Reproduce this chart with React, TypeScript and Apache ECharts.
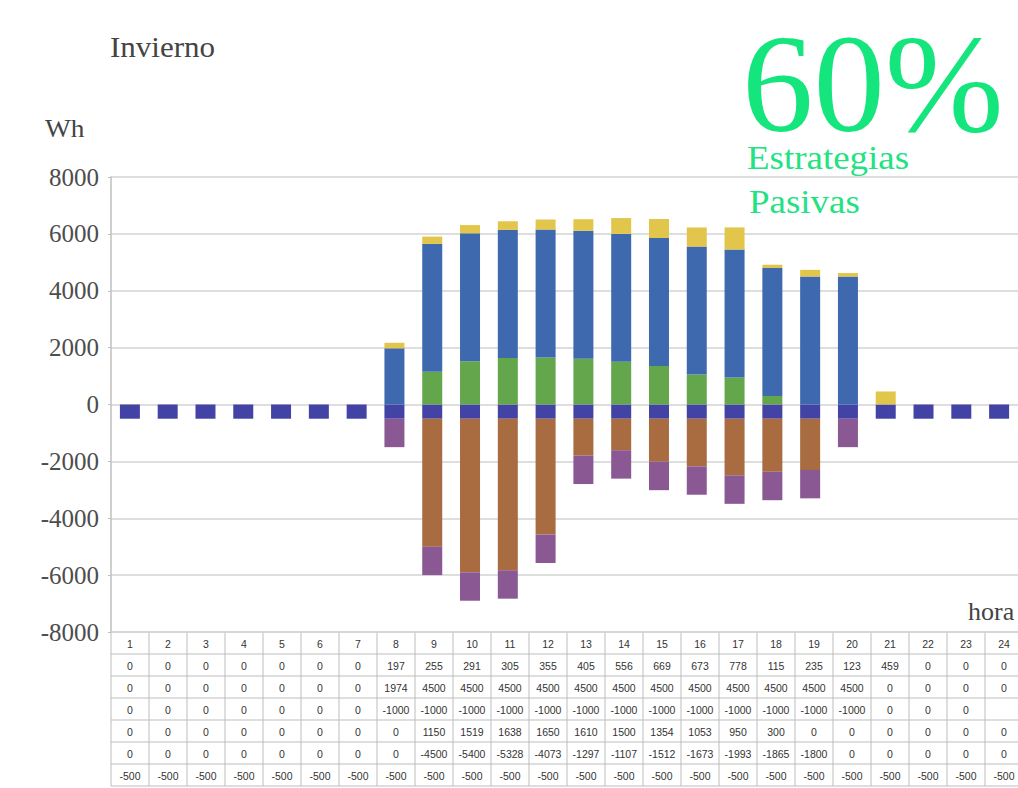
import React, { useEffect, useRef } from "react";
import * as echarts from "echarts";

const hours = ["1","2","3","4","5","6","7","8","9","10","11","12","13","14","15","16","17","18","19","20","21","22","23","24"];
const yellowData = [0,0,0,0,0,0,0,197,255,291,305,355,405,556,669,673,778,115,235,123,459,0,0,0];
const blueData = [0,0,0,0,0,0,0,1974,4500,4500,4500,4500,4500,4500,4500,4500,4500,4500,4500,4500,0,0,0,0];
const purpleData: (number | null)[] = [0,0,0,0,0,0,0,-1000,-1000,-1000,-1000,-1000,-1000,-1000,-1000,-1000,-1000,-1000,-1000,-1000,0,0,0,null];
const greenData = [0,0,0,0,0,0,0,0,1150,1519,1638,1650,1610,1500,1354,1053,950,300,0,0,0,0,0,0];
const brownData = [0,0,0,0,0,0,0,0,-4500,-5400,-5328,-4073,-1297,-1107,-1512,-1673,-1993,-1865,-1800,0,0,0,0,0];
const indigoData = [-500,-500,-500,-500,-500,-500,-500,-500,-500,-500,-500,-500,-500,-500,-500,-500,-500,-500,-500,-500,-500,-500,-500,-500];

const COLORS = {
  yellow: "#E2C64B",
  blue: "#3F69AF",
  purple: "#8A5892",
  green: "#64A64C",
  brown: "#A86C40",
  indigo: "#4343A6",
};

// table rows in the order they appear under the chart
const tableRows = [yellowData, blueData, purpleData, greenData, brownData, indigoData];

const GRID_LEFT = 111;
const GRID_TOP = 177;
const GRID_H = 455;
const GRID_W = 912;
const TABLE_TOP = 632;
const ROW_H = 22;
const SERIF = "'Liberation Serif', 'Times New Roman', serif";
const SANS = "'Liberation Sans', Arial, sans-serif";

export default function App() {
  const ref = useRef<HTMLDivElement>(null);
  useEffect(() => {
    if (!ref.current) return;
    const chart = echarts.init(ref.current, undefined, { renderer: "svg" });
    const cellW = GRID_W / hours.length;
    const allRows: string[][] = [hours, ...tableRows.map((r) => r.map((v) => (v === null ? "" : String(v))))];
    const lineColor = "#BDBDBD";
    const tableEls: any[] = [];
    for (let r = 0; r <= allRows.length; r++) {
      tableEls.push({
        type: "line",
        shape: { x1: GRID_LEFT, y1: TABLE_TOP + r * ROW_H, x2: GRID_LEFT + GRID_W, y2: TABLE_TOP + r * ROW_H },
        style: { stroke: lineColor, lineWidth: 1 },
        silent: true,
      });
    }
    for (let c = 0; c <= hours.length; c++) {
      tableEls.push({
        type: "line",
        shape: { x1: GRID_LEFT + c * cellW, y1: TABLE_TOP, x2: GRID_LEFT + c * cellW, y2: TABLE_TOP + allRows.length * ROW_H },
        style: { stroke: lineColor, lineWidth: 1 },
        silent: true,
      });
    }
    allRows.forEach((row, r) => {
      row.forEach((t, c) => {
        tableEls.push({
          type: "text",
          x: GRID_LEFT + (c + 0.5) * cellW,
          y: TABLE_TOP + (r + 0.5) * ROW_H + 1,
          style: {
            text: t,
            fontSize: 10.5,
            fontFamily: SANS,
            fill: "#333333",
            align: "center",
            textAlign: "center",
            verticalAlign: "middle",
            textVerticalAlign: "middle",
          },
          silent: true,
        });
      });
    });

    const txt = (text: string, x: number, y: number, size: number, color: string, extra: any = {}) => ({
      type: "text",
      x,
      y,
      ...extra,
      style: {
        text,
        fontSize: size,
        fontFamily: SERIF,
        fill: color,
        align: "left",
        textAlign: "left",
        verticalAlign: "middle",
        textVerticalAlign: "middle",
      },
      silent: true,
    });

    const mkSeries = (name: string, data: (number | null)[], color: string) => ({
      name,
      type: "bar",
      stack: "total",
      data,
      barWidth: 20,
      itemStyle: { color },
      emphasis: { disabled: true },
    });

    chart.setOption({
      animation: false,
      grid: { left: GRID_LEFT, top: GRID_TOP, width: GRID_W, height: GRID_H },
      xAxis: {
        type: "category",
        data: hours,
        axisLine: { show: false },
        axisTick: { show: false },
        axisLabel: { show: false },
      },
      yAxis: {
        type: "value",
        min: -8000,
        max: 8000,
        interval: 2000,
        axisLine: { show: true, lineStyle: { color: "#BFBFBF", width: 1.5 } },
        axisTick: { show: true, length: 3, lineStyle: { color: "#BFBFBF" } },
        axisLabel: {
          fontFamily: SERIF,
          fontSize: 25,
          color: "#4D4D4D",
          margin: 12,
          formatter: (v: number) => String(v),
        },
        splitLine: { show: true, lineStyle: { color: "#D3D3D3", width: 1.5 } },
      },
      series: [
        mkSeries("indigo", indigoData, COLORS.indigo),
        mkSeries("brown", brownData, COLORS.brown),
        mkSeries("green", greenData, COLORS.green),
        mkSeries("purple", purpleData, COLORS.purple),
        mkSeries("blue", blueData, COLORS.blue),
        mkSeries("yellow", yellowData, COLORS.yellow),
      ],
      graphic: [
        txt("Invierno", 110, 47, 29, "#444444", { scaleX: 1.07 }),
        txt("Wh", 45, 128, 26, "#444444", { scaleX: 1.05 }),
        txt("hora", 968, 611, 26, "#444444"),
        txt("60%", 742, 84, 140, "#14E57C", { scaleX: 1.02 }),
        txt("Estrategias", 747, 158, 33, "#22E282", { scaleX: 1.12 }),
        txt("Pasivas", 749, 202, 33, "#22E282", { scaleX: 1.12 }),
        ...tableEls,
      ],
    });
    return () => chart.dispose();
  }, []);
  return <div ref={ref} style={{ position: "absolute", left: 0, top: 0, width: 1018, height: 788 }} />;
}
